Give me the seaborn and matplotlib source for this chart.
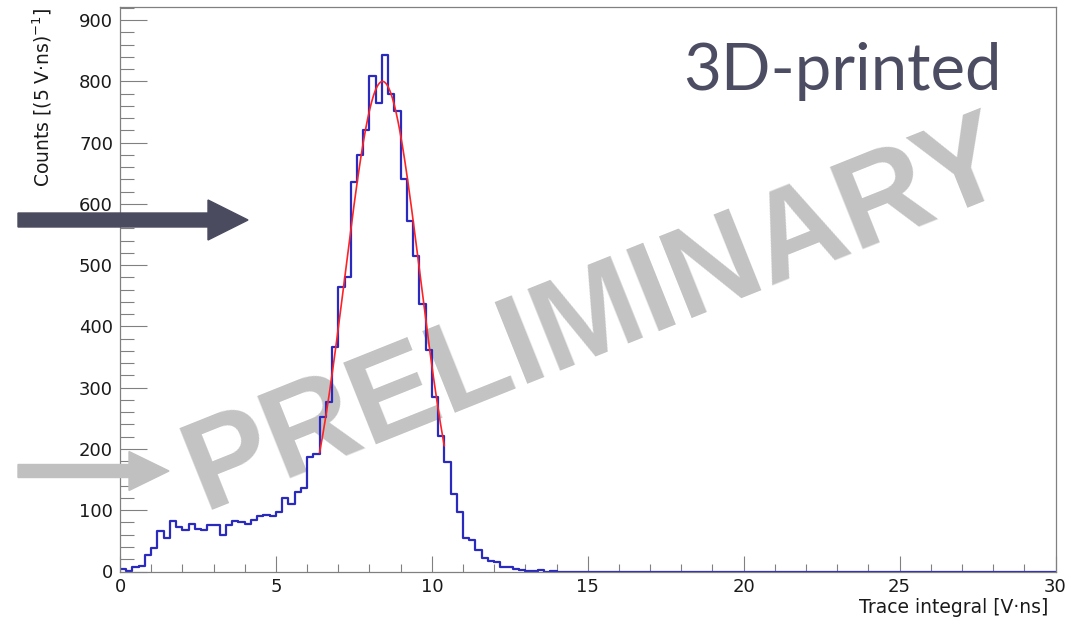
import numpy as np
import pandas as pd
import matplotlib
matplotlib.use("Agg")
import matplotlib.pyplot as plt
from matplotlib.patches import FancyArrow
from matplotlib.ticker import MultipleLocator
import seaborn as sns

# Histogramm: 0.2 V·ns Bins von 0 bis 30
bin_width = 0.2
x_range = (0, 30)
counts_nonzero = [4, 1, 8, 9, 27, 39, 66, 54, 82, 72,
                  67, 78, 69, 67, 76, 76, 60, 76, 83, 81,
                  78, 84, 91, 92, 90, 97, 120, 110, 129, 137,
                  187, 191, 253, 277, 366, 465, 481, 636, 680, 721,
                  809, 765, 843, 780, 752, 640, 572, 515, 437, 361,
                  285, 221, 178, 127, 97, 55, 51, 35, 22, 17,
                  15, 8, 7, 4, 3, 1, 1, 2, 0, 1]
n_bins = int(round((x_range[1] - x_range[0]) / bin_width))
counts = counts_nonzero + [0] * (n_bins - len(counts_nonzero))

# Gauss-Fit
fit_amp = 800
fit_mean = 8.42
fit_sigma = 1.2
fit_range = (6.4, 10.4)

x_label = "Trace integral [V·ns]"
y_label = r"Counts [(5 V·ns)$^{-1}$]"
tag_text = "3D-printed"
watermark = "PRELIMINARY"

sns.set_style("ticks")
plt.rcParams["font.family"] = ["DejaVu Sans"]
plt.rcParams["mathtext.fontset"] = "dejavusans"

W, H = 1071, 632
fig = plt.figure(figsize=(W / 100, H / 100), dpi=100)
ax = fig.add_axes([120 / W, (H - 571.5) / H, 935.5 / W, 564.2 / H])

edges = np.linspace(x_range[0], x_range[1], n_bins + 1)
centers = (edges[:-1] + edges[1:]) / 2
df = pd.DataFrame({"x": centers, "n": counts})

# Text im Hintergrund
ax.text(6.10, 2.84, watermark, transform=fig.dpi_scale_trans,
        fontsize=92, fontweight="bold", color="#c3c3c3",
        family=["Liberation Sans", "DejaVu Sans"],
        rotation=21.8, rotation_mode="anchor", ha="center", va="baseline",
        zorder=0.5, clip_on=False)

sns.histplot(data=df, x="x", weights="n", binwidth=bin_width, binrange=x_range,
             element="step", fill=False, color="#2a2abf", linewidth=1.6,
             ax=ax, zorder=2)

xf = np.linspace(fit_range[0], fit_range[1], 200)
fit_df = pd.DataFrame({"x": xf,
                       "y": fit_amp * np.exp(-0.5 * ((xf - fit_mean) / fit_sigma) ** 2)})
sns.lineplot(data=fit_df, x="x", y="y", color="#ff2222", linewidth=1.2, ax=ax, zorder=3)

ax.set_xlim(*x_range)
ax.set_ylim(0, 921)
ax.xaxis.set_major_locator(MultipleLocator(5))
ax.xaxis.set_minor_locator(MultipleLocator(1))
ax.yaxis.set_major_locator(MultipleLocator(100))
ax.yaxis.set_minor_locator(MultipleLocator(20))

for s in ax.spines.values():
    s.set_visible(True)
    s.set_color("#808080")
    s.set_linewidth(0.9)

ax.tick_params(axis="both", which="both", direction="in", color="#808080",
               width=0.8, labelsize=13, labelcolor="#1a1a1a",
               top=False, right=False)
ax.tick_params(axis="y", which="major", length=19.5, pad=5)
ax.tick_params(axis="y", which="minor", length=10)
ax.tick_params(axis="x", which="major", length=11.5, pad=4.5)
ax.tick_params(axis="x", which="minor", length=5.5)

ax.set_xlabel(x_label, fontsize=13.5, color="#1a1a1a", loc="right")
ax.xaxis.set_label_coords((1048 - 120) / 935.5, -(598 - 571.5) / 564.2)
ax.set_ylabel(y_label, fontsize=13.5, color="#1a1a1a", loc="top")
ax.yaxis.set_label_coords((54 - 120) / 935.5, 1.0)

fig.text(1002 / W, (H - 90) / H, tag_text, fontsize=47, family=["Lato", "DejaVu Sans"],
         color="#4c4c62", ha="right", va="baseline")

# Pfeile links
fig.add_artist(FancyArrow(0.18, (H - 220) / 100, 2.30, 0, width=0.14,
                          head_width=0.40, head_length=0.40, length_includes_head=True,
                          color="#4b4b60", transform=fig.dpi_scale_trans, zorder=5))
fig.add_artist(FancyArrow(0.18, (H - 471) / 100, 1.51, 0, width=0.13,
                          head_width=0.39, head_length=0.40, length_includes_head=True,
                          color="#c0c0c0", transform=fig.dpi_scale_trans, zorder=5))

fig.savefig("out.png", dpi=100)
